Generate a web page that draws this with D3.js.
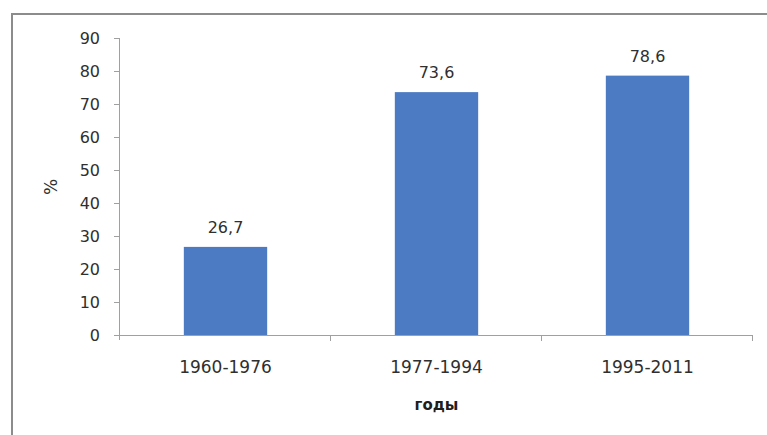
<!DOCTYPE html>
<html>
<head>
<meta charset="utf-8">
<script src="https://cdn.jsdelivr.net/npm/d3@7"></script>
<style>
  html, body { margin: 0; padding: 0; background: #fff; }
  svg { display: block; }
</style>
</head>
<body>
<svg id="chart" width="767" height="435"></svg>
<script>
// Share by period, %
const periods = ["1960-1976", "1977-1994", "1995-2011"];
const shares = [26.7, 73.6, 78.6];
const yTicks = [0, 10, 20, 30, 40, 50, 60, 70, 80, 90];
const xTitle = "годы";
const yTitle = "%";

const svg = d3.select("#chart");
const font = "'DejaVu Sans', sans-serif";
const textColor = "#2f2f2f";
const axisColor = "#a0a0a0";

// Outer chart frame (left and top edges visible)
svg.append("path")
  .attr("d", "M12,435 V14 H767")
  .attr("fill", "none")
  .attr("stroke", "#8c8c8c")
  .attr("stroke-width", 2);

const plot = { left: 120, right: 753, top: 38, bottom: 335 };

const x = d3.scaleBand()
  .domain(periods)
  .range([plot.left, plot.right])
  .paddingInner(0.605)
  .paddingOuter(0.3025);

const y = d3.scaleLinear()
  .domain([0, 90])
  .range([plot.bottom, plot.top]);

// Y axis
const yAxis = svg.append("g")
  .attr("transform", `translate(${plot.left},0)`)
  .call(d3.axisLeft(y).tickValues(yTicks).tickSize(6).tickPadding(14));
yAxis.select(".domain").attr("stroke", axisColor).attr("d", `M-0.5,${plot.top}V${plot.bottom + 5}`);
yAxis.selectAll(".tick line").attr("stroke", axisColor);
yAxis.selectAll(".tick text")
  .attr("fill", textColor)
  .style("font-family", font)
  .style("font-size", "16px");

// X axis with ticks at category boundaries
const xAxisG = svg.append("g");
xAxisG.append("line")
  .attr("x1", plot.left - 6).attr("x2", plot.right)
  .attr("y1", plot.bottom + 0.5).attr("y2", plot.bottom + 0.5)
  .attr("stroke", axisColor);
const step = x.step();
const boundaries = d3.range(periods.length + 1).map(i => plot.left + i * step);
xAxisG.selectAll(".bnd")
  .data(boundaries.slice(1))
  .join("line")
  .attr("x1", d => Math.round(d) - 0.5).attr("x2", d => Math.round(d) - 0.5)
  .attr("y1", plot.bottom).attr("y2", plot.bottom + 6)
  .attr("stroke", axisColor);
xAxisG.selectAll(".cat")
  .data(periods)
  .join("text")
  .attr("x", d => x(d) + x.bandwidth() / 2)
  .attr("y", plot.bottom + 38)
  .attr("text-anchor", "middle")
  .attr("fill", textColor)
  .style("font-family", font)
  .style("font-size", "17px")
  .text(d => d);

// Bars
svg.selectAll(".bar")
  .data(periods)
  .join("rect")
  .attr("x", d => x(d))
  .attr("width", x.bandwidth())
  .attr("y", (d, i) => y(shares[i]))
  .attr("height", (d, i) => y(0) - y(shares[i]))
  .attr("fill", "#4d7bc3");

// Value labels
svg.selectAll(".val")
  .data(periods)
  .join("text")
  .attr("x", d => x(d) + x.bandwidth() / 2)
  .attr("y", (d, i) => y(shares[i]) - 14)
  .attr("text-anchor", "middle")
  .attr("fill", textColor)
  .style("font-family", font)
  .style("font-size", "16px")
  .text((d, i) => d3.format(".1f")(shares[i]).replace(".", ","));

// Axis titles
svg.append("text")
  .attr("x", (plot.left + plot.right) / 2)
  .attr("y", 410)
  .attr("text-anchor", "middle")
  .attr("fill", "#1e1e1e")
  .style("font-family", font)
  .style("font-size", "15px")
  .style("font-weight", "bold")
  .text(xTitle);

svg.append("text")
  .attr("transform", "translate(57,187) rotate(-90)")
  .attr("text-anchor", "middle")
  .attr("fill", textColor)
  .style("font-family", font)
  .style("font-size", "17px")
  .text(yTitle);
</script>
</body>
</html>
